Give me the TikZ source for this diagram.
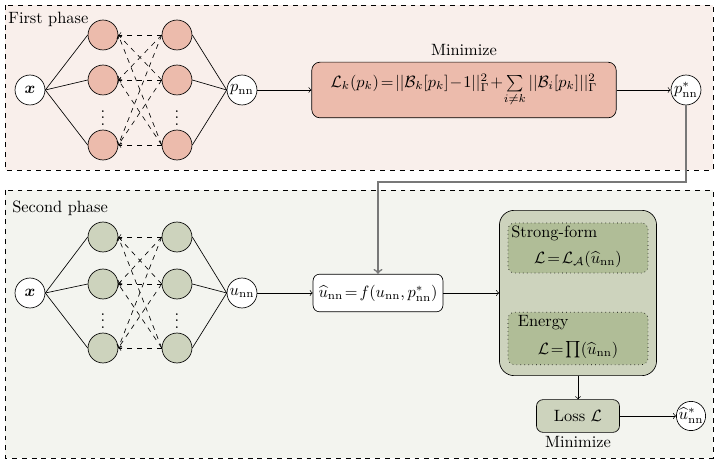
\documentclass[tikz,border=0pt]{standalone}
\usepackage{amsmath,amssymb}
\usetikzlibrary{positioning}

\definecolor{phaseA}{RGB}{249,239,235}
\definecolor{phaseB}{RGB}{243,244,239}
\definecolor{salmon}{RGB}{236,187,172}
\definecolor{sage}{RGB}{205,211,189}
\definecolor{sagedark}{RGB}{176,189,151}
\definecolor{feedgray}{RGB}{120,120,120}

\tikzset{
  io/.style={circle, draw, fill=white, inner sep=0pt, minimum size=18.3pt},
  neuronA/.style={circle, draw, fill=salmon, inner sep=0pt, minimum size=18.3pt},
  neuronB/.style={circle, draw, fill=sage, inner sep=0pt, minimum size=18.3pt},
  phasebox/.style={dashed, thin},
  feed/.style={->, draw=feedgray, line width=1pt},
}

\begin{document}
\begin{tikzpicture}[x=0.611pt, y=-0.611pt, >=to]
\useasboundingbox (0,0) rectangle (723,463);

% PHASE FRAMES
\draw [phasebox, fill=phaseA] (5,5) rectangle (713,170);
\draw [phasebox, fill=phaseB] (5,190) rectangle (713,458);
\node [anchor=north west, inner sep=0pt] (title1) at (8,12) {First phase};
\node [anchor=north west, inner sep=0pt] (title2) at (12,201) {Second phase};

% FIRST PHASE NETWORK
\node [io] (x1) at (30,90) {$\boldsymbol{x}$};
\foreach \n/\y in {1/35, 2/80, 3/145} {
  \node [neuronA] (a\n) at (103,\y) {};
  \node [neuronA] (b\n) at (177,\y) {};
}
\node (adots) at (103,113) {$\vdots$};
\node (bdots) at (177,113) {$\vdots$};
\node [io] (p) at (242,90) {$p_{\mathrm{nn}}$};
\foreach \n in {1,2,3} {
  \draw (x1.east) -- (a\n.west);
  \draw (b\n.east) -- (p.west);
  \foreach \m in {1,2,3}
    \draw [dashed, ->] (b\n.west) -- (a\m.east);
}

% FIRST PHASE LOSS
\node [draw, fill=salmon, rounded corners=5pt, minimum width=186pt, minimum height=34pt,
       label={[inner sep=3.5pt]above:Minimize}] (minA) at (464,90)
  {$\mathcal{L}_k(p_k)\!=\!||\mathcal{B}_k[p_k]\!-\!1||^2_\Gamma\!+\!\sum\limits_{i\neq k}||\mathcal{B}_i[p_k]||^2_\Gamma$};
\node [io] (ps) at (686,90) {$p^*_{\mathrm{nn}}$};
\draw [->] (p) -- (minA);
\draw [->] (minA) -- (ps);

% SECOND PHASE NETWORK
\node [io] (x2) at (30,293) {$\boldsymbol{x}$};
\foreach \n/\y in {1/237, 2/284, 3/348} {
  \node [neuronB] (c\n) at (103,\y) {};
  \node [neuronB] (d\n) at (177,\y) {};
}
\node (cdots) at (103,316) {$\vdots$};
\node (ddots) at (177,316) {$\vdots$};
\node [io] (u) at (242,293) {$u_{\mathrm{nn}}$};
\foreach \n in {1,2,3} {
  \draw (x2.east) -- (c\n.west);
  \draw (d\n.east) -- (u.west);
  \foreach \m in {1,2,3}
    \draw [dashed, ->] (d\n.west) -- (c\m.east);
}

% ANSATZ
\node [draw, fill=white, rounded corners=4pt, minimum width=79pt, minimum height=23pt] (uhat) at (378,293)
  {$\widehat{u}_{\mathrm{nn}}\!=\!f(u_{\mathrm{nn}},p^*_{\mathrm{nn}})$};
\draw [->] (u) -- (uhat);
\coordinate (bend) at (686,182);
\draw [feed] (ps) -- (bend) -| (uhat);

% SECOND PHASE LOSS
\node [draw, fill=sage, rounded corners=9pt, minimum width=96pt, minimum height=101pt] (lossbox) at (578,293) {};
\node [draw, dotted, fill=sagedark, rounded corners=4pt, minimum width=85.5pt, minimum height=30.5pt] (strong) at (578,248) {};
\node [anchor=north west, inner sep=2pt] (strongtitle) at (strong.north west) {Strong-form};
\node (strongeq) at (578,259) {$\mathcal{L}\!=\!\mathcal{L}_{\mathcal{A}}(\widehat{u}_{\mathrm{nn}})$};
\node [draw, dotted, fill=sagedark, rounded corners=4pt, minimum width=85.5pt, minimum height=32pt] (energy) at (578,338.5) {};
\node [anchor=north west, inner sep=2pt] (energytitle) at ([xshift=4pt]energy.north west) {Energy};
\node (energyeq) at (578,350) {$\mathcal{L}\!=\!\prod(\widehat{u}_{\mathrm{nn}})$};
\draw [->] (uhat) -- (lossbox);

\node [draw, fill=sage, rounded corners=4pt, minimum width=50.7pt, minimum height=20pt,
       label={[inner sep=2pt]below:Minimize}] (loss) at (578,416) {Loss $\mathcal{L}$};
\node [io, minimum size=17pt] (us) at (691,416) {$\widehat{u}^*_{\mathrm{nn}}$};
\draw [->] (lossbox) -- (loss);
\draw [->] (loss) -- (us);

\end{tikzpicture}
\end{document}
